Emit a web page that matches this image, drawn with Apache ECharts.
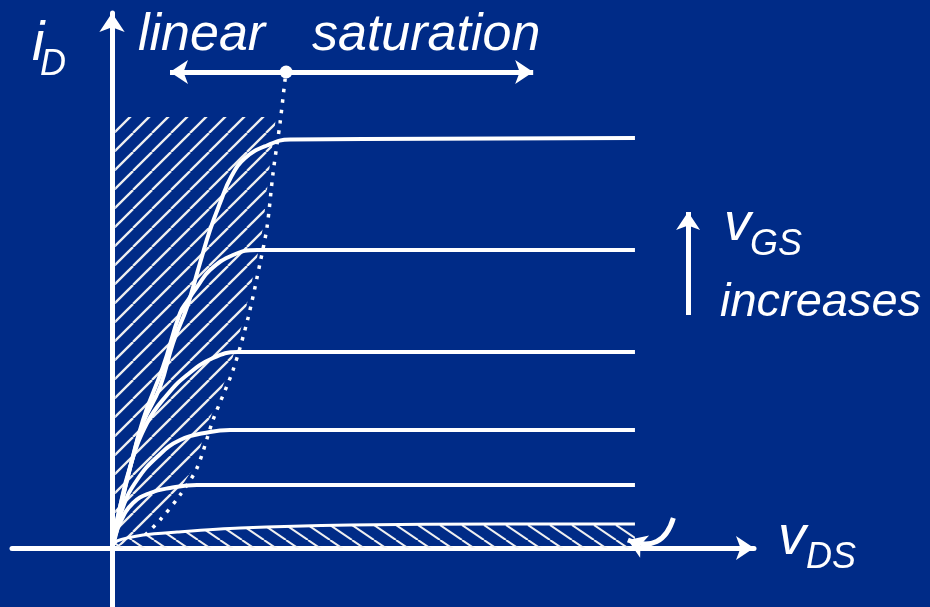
<!DOCTYPE html>
<html>
<head>
<meta charset="utf-8">
<script src="https://cdn.jsdelivr.net/npm/echarts@6/dist/echarts.min.js"></script>
<style>
html, body { margin: 0; width: 100%; height: 100%; background: #002b87; }
#chart { width: 930px; height: 607px; }
</style>
</head>
<body>
<div id="chart"></div>
<script>
// vDS on x, iD on y (arbitrary units)
const curveA = [[0, 0], [0.078, 0.36], [0.172, 1.02], [0.328, 1.82], [0.484, 2.5], [0.75, 3.22], [0.953, 4.1], [1.172, 4.82], [1.375, 5.7], [1.531, 6.36], [1.688, 6.9], [1.86, 7.42], [2.08, 7.8], [2.42, 8.05], [2.781, 8.17], [8.17, 8.2]];
const curveB = [[0, 0], [0.078, 0.56], [0.234, 1.36], [0.484, 2.56], [0.797, 3.62], [1.063, 4.7], [1.188, 4.96], [1.328, 5.22], [1.531, 5.56], [1.891, 5.86], [2.266, 5.96], [8.17, 5.96]];
const curveC = [[0, 0], [0.125, 0.82], [0.281, 1.62], [0.547, 2.5], [0.859, 3.06], [1.172, 3.46], [1.578, 3.8], [1.969, 3.92], [8.17, 3.92]];
const curveD = [[0, 0], [0.172, 0.82], [0.391, 1.36], [0.703, 1.82], [1.063, 2.16], [1.531, 2.32], [1.844, 2.36], [8.17, 2.36]];
const curveE = [[0, 0], [0.125, 0.5], [0.328, 0.9], [0.594, 1.1], [0.906, 1.2], [1.328, 1.26], [8.17, 1.26]];
const cutoff = [[0, 0], [0.078, 0.14], [0.484, 0.26], [1.016, 0.32], [2, 0.4], [3.72, 0.46], [6.06, 0.48], [8.17, 0.48]];
const pinchoff = [[0.516, 0.26], [0.75, 0.56], [1.063, 1.06], [1.328, 1.6], [1.578, 2.56], [1.891, 3.56], [2.125, 4.6], [2.313, 5.7], [2.422, 6.42], [2.516, 7.5], [2.625, 8.5], [2.703, 9.36], [2.72, 9.52]];
const linearRegion = [[0.05, 0], [0.46, 0.26], [0.69, 0.56], [1.0, 1.06], [1.27, 1.6], [1.52, 2.56], [1.83, 3.56], [2.06, 4.6], [2.25, 5.7], [2.36, 6.42], [2.45, 7.5], [2.55, 8.5], [2.56, 8.62], [0.05, 8.62]];
const regionDot = [2.72, 9.52];
const linearEnd = [0.906, 9.52];
const saturationEnd = [6.58, 9.52];
const vgsArrow = [[9.0, 4.66], [9.0, 6.72]];
const leakArrow = [[8.77, 0.6], [8.06, 0.16]];

function hatch(w, h, up, lw) {
    const c = document.createElement('canvas');
    c.width = w;
    c.height = h;
    const g = c.getContext('2d');
    g.strokeStyle = '#f0f0f0';
    g.lineWidth = lw;
    for (const o of [-w, 0, w]) {
        g.beginPath();
        if (up) { g.moveTo(o, h); g.lineTo(o + w, 0); }
        else { g.moveTo(o, 0); g.lineTo(o + w, h); }
        g.stroke();
    }
    return c;
}
const hatchUp = hatch(19, 19, true, 2.3);
const hatchDown = hatch(22, 15, false, 2);

const font = "'Liberation Sans', Arial, sans-serif";
const white = '#ffffff';

function curve(data, width) {
    return {
        type: 'line', data, symbol: 'none', smooth: 0.45, z: 3, silent: true,
        lineStyle: { color: white, width },
    };
}
function arrow(coords, symbol, curveness) {
    return {
        type: 'lines', coordinateSystem: 'cartesian2d', z: 4, silent: true,
        symbol, symbolSize: 18,
        lineStyle: { color: white, width: 5, opacity: 1, curveness: curveness || 0 },
        data: [{ coords }],
    };
}
function txt(text, x, y, size) {
    return {
        type: 'text', z: 10, silent: true,
        style: { text, x, y, fill: white, font: 'italic ' + size + 'px ' + font, align: 'left', verticalAlign: 'middle' },
    };
}

const chart = echarts.init(document.getElementById('chart'));
chart.setOption({
    backgroundColor: '#002b87',
    animation: false,
    grid: { left: 12, right: 176, top: 13, bottom: 0 },
    xAxis: {
        type: 'value', min: -1.5625, max: 10.03,
        axisLine: { onZero: true, symbol: ['none', 'arrow'], symbolSize: [18, 18], lineStyle: { color: white, width: 5 } },
        axisTick: { show: false }, axisLabel: { show: false }, splitLine: { show: false },
    },
    yAxis: {
        type: 'value', min: -1.18, max: 10.7,
        axisLine: { onZero: true, symbol: ['none', 'arrow'], symbolSize: [19, 19], lineStyle: { color: white, width: 5 } },
        axisTick: { show: false }, axisLabel: { show: false }, splitLine: { show: false },
    },
    series: [
        {
            type: 'custom', coordinateSystem: 'cartesian2d', data: [[0, 0]], silent: true, clip: false, z: 1,
            renderItem: (params, api) => ({
                type: 'polygon',
                shape: { points: linearRegion.map(p => api.coord(p)) },
                style: { fill: { image: hatchUp, repeat: 'repeat' } },
            }),
        },
        {
            type: 'line', data: cutoff, symbol: 'none', smooth: 0.3, z: 3, silent: true,
            lineStyle: { color: white, width: 3 },
            areaStyle: { color: { image: hatchDown, repeat: 'repeat' }, opacity: 1 },
        },
        curve(curveA, 4),
        curve(curveB, 4),
        curve(curveC, 4),
        curve(curveD, 4),
        curve(curveE, 4),
        {
            type: 'line', data: pinchoff, symbol: 'none', smooth: 0.3, z: 3, silent: true,
            lineStyle: { color: white, width: 3.5, type: [3.5, 7] },
        },
        arrow([regionDot, linearEnd], ['none', 'arrow']),
        arrow([regionDot, saturationEnd], ['none', 'arrow']),
        arrow(vgsArrow, ['none', 'arrow']),
        arrow(leakArrow, ['none', 'arrow'], 0.55),
        {
            type: 'scatter', data: [regionDot], symbolSize: 13, z: 5, silent: true,
            itemStyle: { color: white, opacity: 1 },
        },
    ],
    graphic: [
        txt('i', 32, 44, 56),
        txt('D', 40, 65, 36),
        txt('linear', 138, 36, 52),
        txt('saturation', 312, 36, 52),
        txt('v', 724, 225, 54),
        txt('GS', 750, 245, 36),
        txt('increases', 720, 303, 47),
        txt('v', 778, 538, 56),
        txt('DS', 806, 558, 36),
    ],
});
</script>
</body>
</html>
